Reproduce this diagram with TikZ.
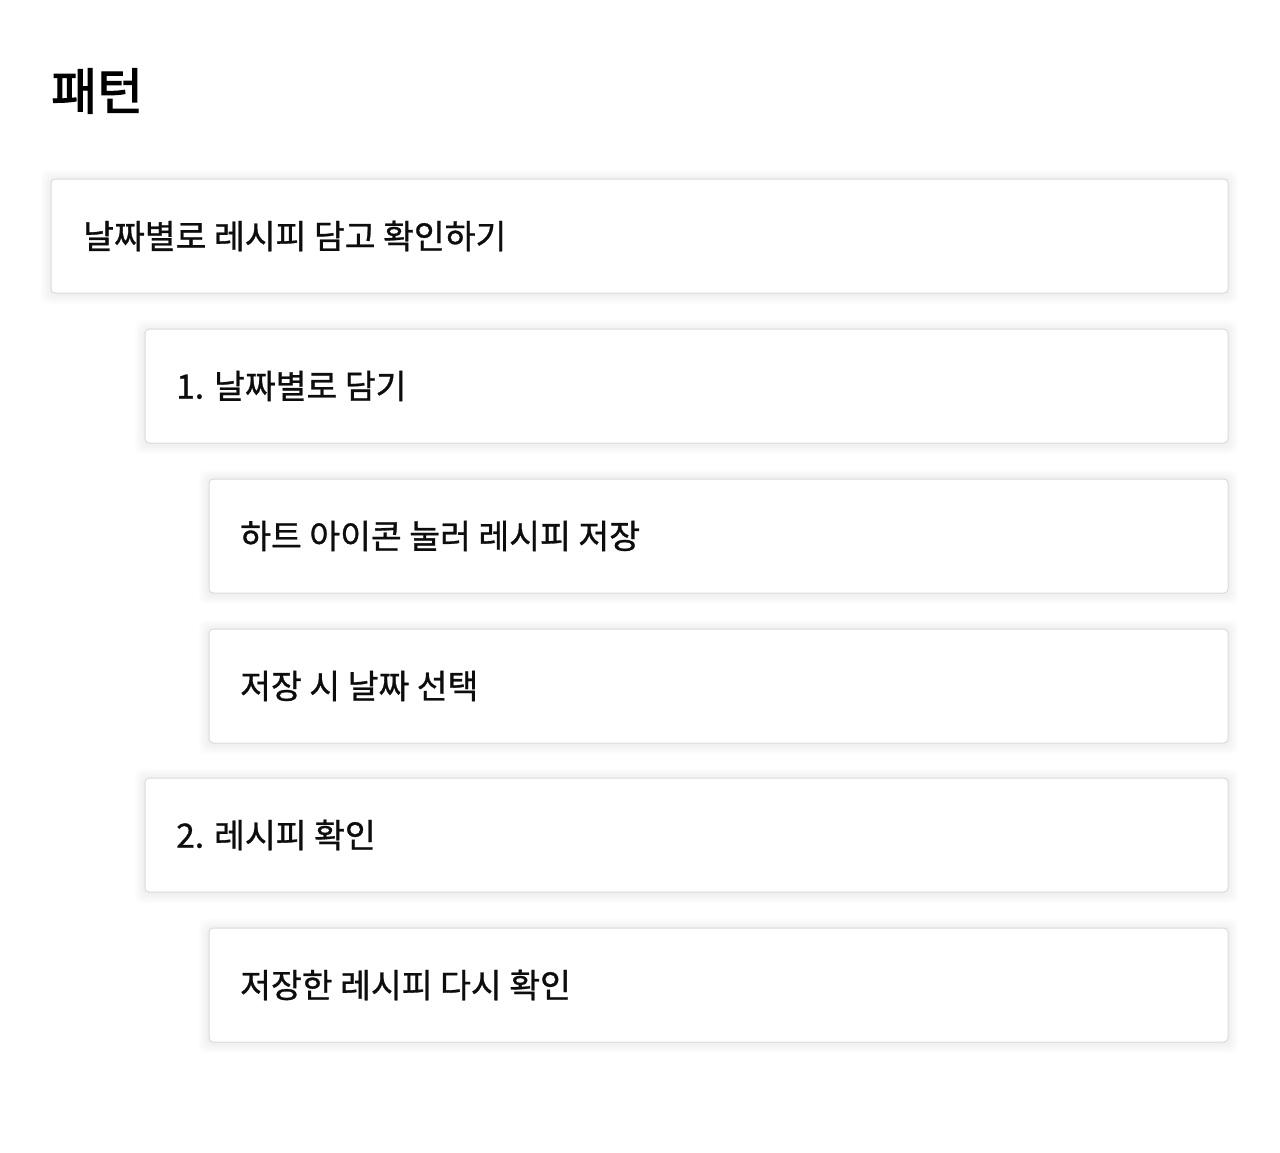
\documentclass[tikz,border=0pt]{standalone}
\usepackage{fontspec}
\newfontfamily\kr[FakeBold=0.9]{Noto Sans CJK KR}
\newfontfamily\krtitle[FakeBold=2.2]{Noto Sans CJK KR}
\begin{document}
\begin{tikzpicture}[x=1pt,y=-1pt,
  card/.style={draw=black!14, line width=1pt, fill=white, rounded corners=4pt},
  cardtext/.style={anchor=west, font=\kr\fontsize{33.5}{38}\selectfont, inner sep=0pt, text=black!95},
  titletext/.style={anchor=west, font=\krtitle\fontsize{50}{56}\selectfont, inner sep=0pt}]
\useasboundingbox (0,0) rectangle (1280,1152);
\fill[white] (0,0) rectangle (1280,1152);
\node[titletext] (title) at (51,91) {패턴};
\foreach \xa/\ya/\i/\t/\tx in {
  51/179/a/{날짜별로 레시피 담고 확인하기}/83,
  145/329/b/{1. 날짜별로 담기}/176,
  209/479/c/{하트 아이콘 눌러 레시피 저장}/240,
  209/629/d/{저장 시 날짜 선택}/240,
  145/778/e/{2. 레시피 확인}/176,
  209/928/f/{저장한 레시피 다시 확인}/240}{
  \foreach \k in {10,8,6,4,2}{
    \fill[black, opacity=0.01, rounded corners=8pt] (\xa-\k,\ya-\k+1) rectangle (1228+\k,\ya+114+\k+1);
  }
  \draw[card] (\xa,\ya) rectangle (1228,\ya+114);
  \node[cardtext] (n\i) at (\tx,\ya+57) {\t};
}
\end{tikzpicture}
\end{document}
